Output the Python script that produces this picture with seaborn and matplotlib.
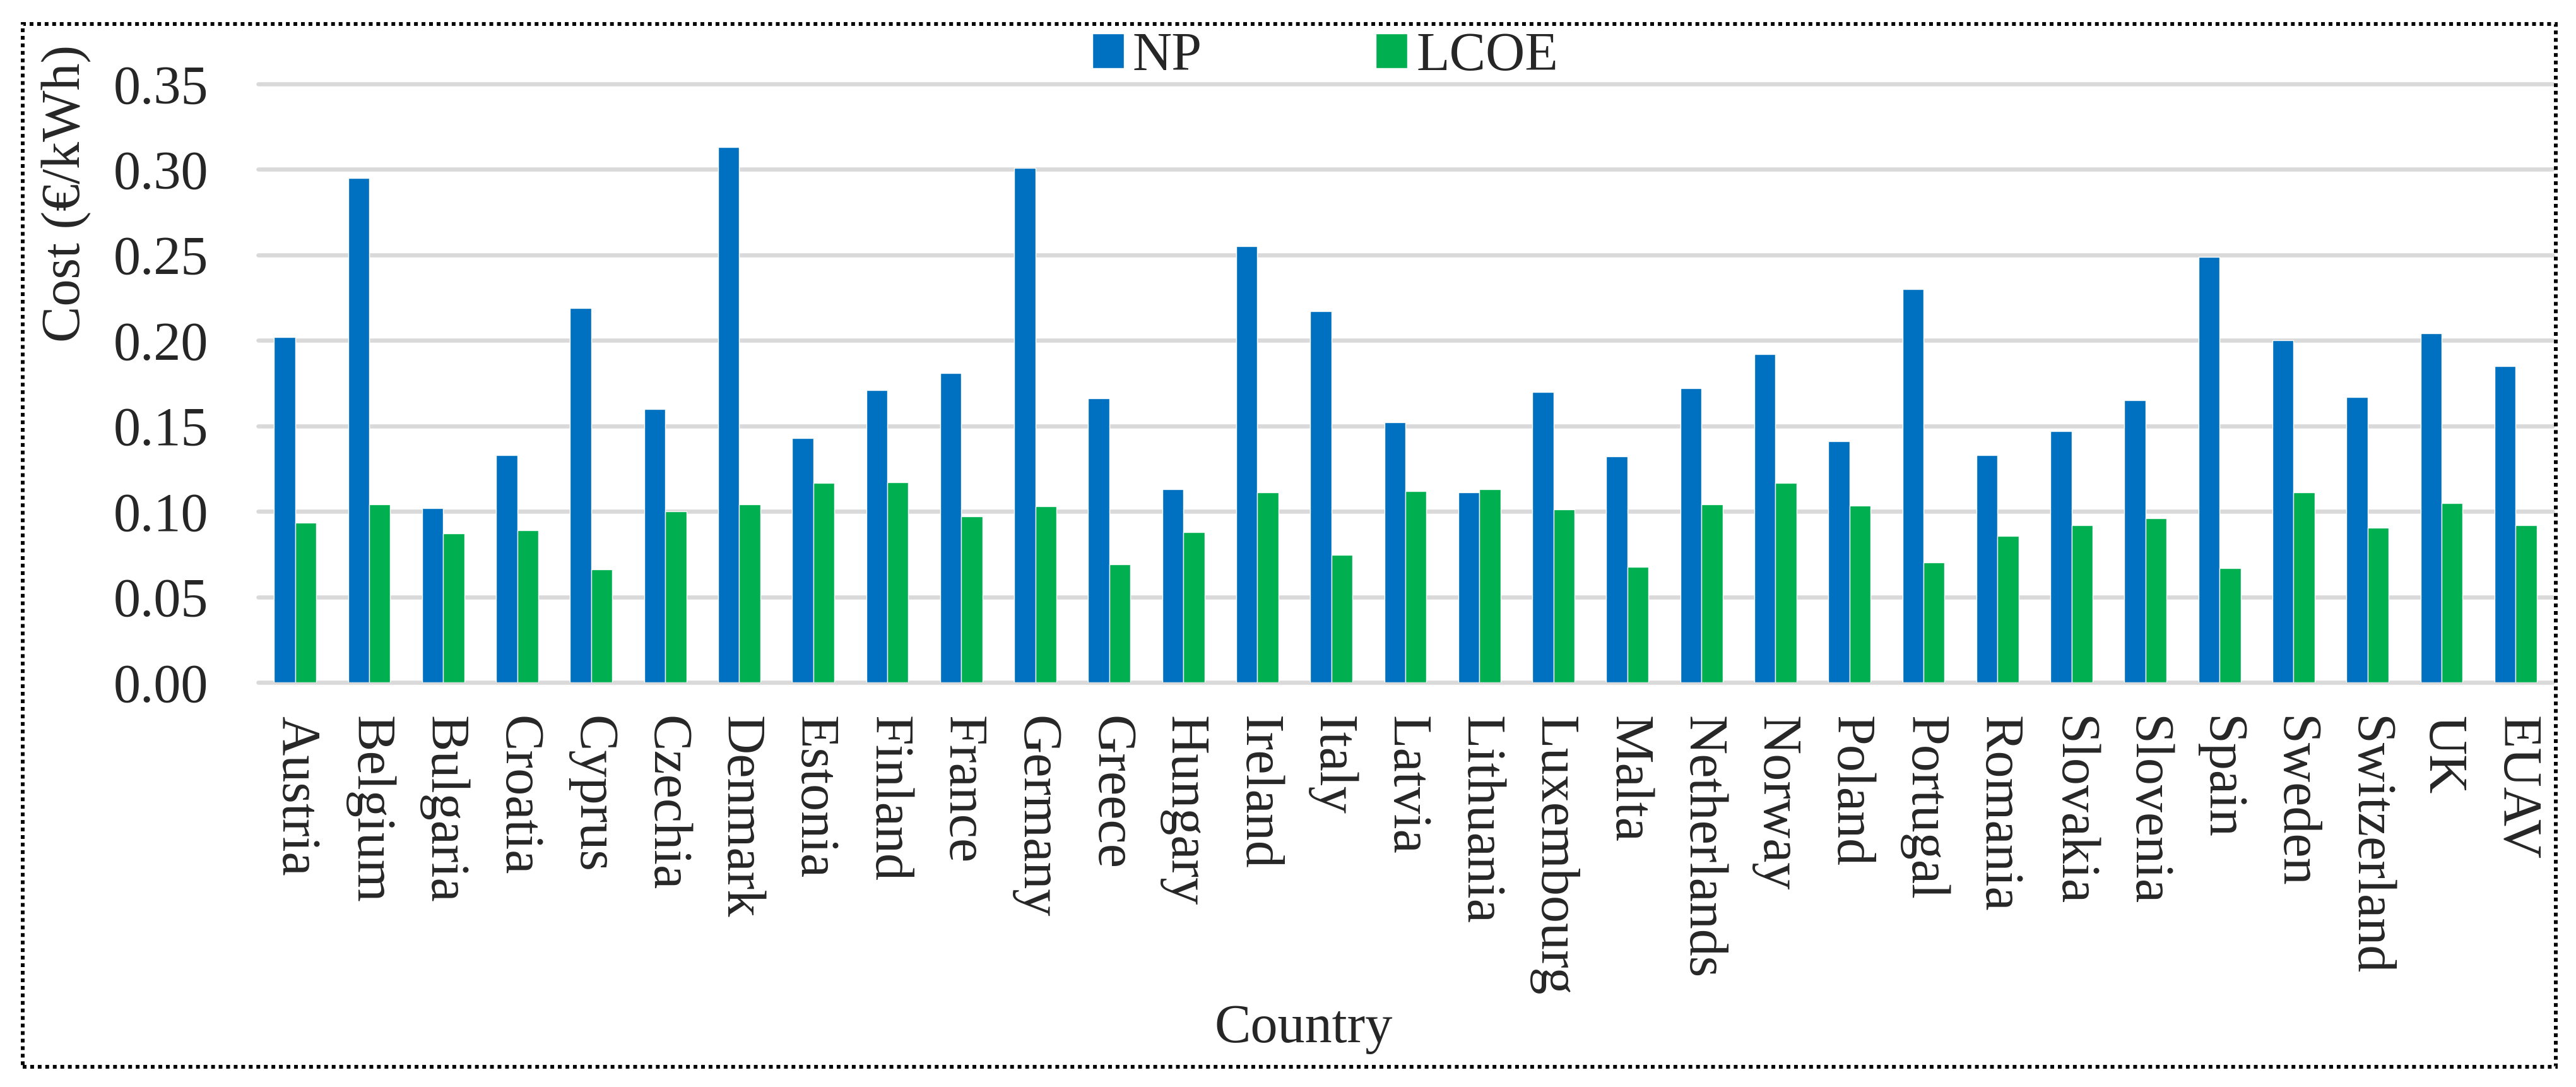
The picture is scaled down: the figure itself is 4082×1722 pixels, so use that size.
import matplotlib
matplotlib.use("Agg")
import matplotlib.pyplot as plt
from matplotlib.patches import Rectangle
import seaborn as sns
import pandas as pd

countries = ['Austria', 'Belgium', 'Bulgaria', 'Croatia', 'Cyprus', 'Czechia', 'Denmark',
             'Estonia', 'Finland', 'France', 'Germany', 'Greece', 'Hungary', 'Ireland',
             'Italy', 'Latvia', 'Lithuania', 'Luxembourg', 'Malta', 'Netherlands', 'Norway',
             'Poland', 'Portugal', 'Romania', 'Slovakia', 'Slovenia', 'Spain', 'Sweden',
             'Switzerland', 'UK', 'EUAV']
np_cost = [0.202, 0.295, 0.102, 0.133, 0.219, 0.160, 0.313, 0.143, 0.171, 0.181, 0.301,
           0.166, 0.113, 0.255, 0.217, 0.152, 0.111, 0.170, 0.132, 0.172, 0.192, 0.141,
           0.230, 0.133, 0.147, 0.165, 0.249, 0.200, 0.167, 0.204, 0.185]
lcoe_cost = [0.0935, 0.104, 0.087, 0.089, 0.066, 0.100, 0.104, 0.1165, 0.117, 0.097, 0.103,
             0.069, 0.088, 0.111, 0.0745, 0.112, 0.113, 0.101, 0.0675, 0.104, 0.1165, 0.1035,
             0.070, 0.0855, 0.092, 0.096, 0.067, 0.111, 0.0905, 0.105, 0.092]
series = ['NP', 'LCOE']
colors = ['#0070C0', '#00B050']
yticks = [0.00, 0.05, 0.10, 0.15, 0.20, 0.25, 0.30, 0.35]

df = pd.DataFrame({
    'Country': countries * 2,
    'Cost': np_cost + lcoe_cost,
    'Series': [series[0]] * len(countries) + [series[1]] * len(countries),
})

sns.set_theme(style='white')
plt.rcParams['font.family'] = ['Liberation Serif', 'DejaVu Serif']
fs = 62

W, H = 4082, 1722
fig = plt.figure(figsize=(W / 100, H / 100), dpi=100)
ax = fig.add_axes([409 / W, 1 - 1081 / H, (4045 - 409) / W, (1081 - 133) / H])

sns.barplot(data=df, x='Country', y='Cost', hue='Series', palette=colors,
            width=0.57, gap=0, saturation=1, errorbar=None, ax=ax)

ax.set_ylim(0, 0.35)
ax.set_yticks(yticks)
ax.set_yticklabels([f'{v:.2f}' for v in yticks], fontsize=fs)
ax.tick_params(axis='y', length=0, pad=57)
ax.tick_params(axis='x', length=0, pad=38)
for lab in ax.get_xticklabels():
    lab.set_rotation(270)
    lab.set_fontsize(fs)
    lab.set_va('top')
    lab.set_ha('center')

ax.set_axisbelow(True)
ax.yaxis.grid(True, color='#D9D9D9', linewidth=4.7)
ax.xaxis.grid(False)
for gl in ax.get_ygridlines():
    gl.set_clip_on(False)
for sp in ax.spines.values():
    sp.set_visible(False)

ax.set_ylabel('Cost (€/kWh)', fontsize=fs)
ax.yaxis.set_label_coords(-0.0726, 0.8175)
ax.set_xlabel('Country', fontsize=fs)
ax.xaxis.set_label_coords(0.4557, -0.537)

handles, labels = ax.get_legend_handles_labels()
ax.get_legend().remove()
ax.legend(handles, labels, loc='center', bbox_to_anchor=(2100 / W, 1 - 90 / H),
          bbox_transform=fig.transFigure, ncol=2, frameon=False, fontsize=fs,
          handlelength=0.58, handleheight=0.6, handletextpad=0.16, columnspacing=3.2)

frame = Rectangle((36 / W, 1 - 1690 / H), (4050 - 36) / W, (1690 - 38) / H,
                  transform=fig.transFigure, fill=False, edgecolor='black',
                  linewidth=4.3, linestyle=(0, (1, 1)))
fig.patches.append(frame)

fig.savefig('out.png', dpi=100, facecolor='white')
